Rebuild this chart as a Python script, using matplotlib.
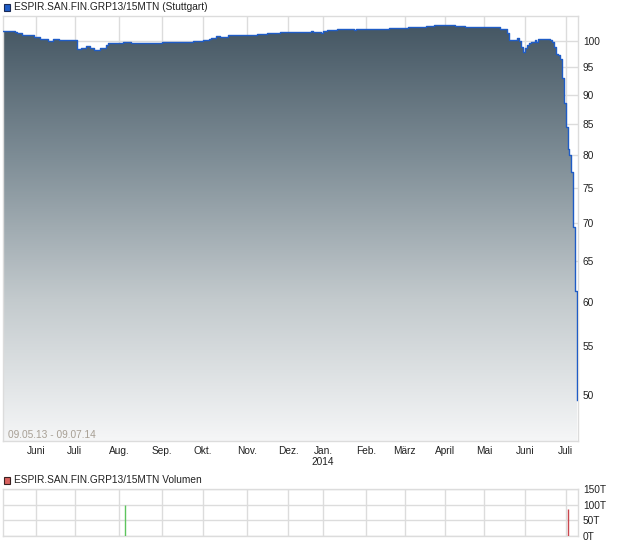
import numpy as np
import pandas as pd
import matplotlib
matplotlib.use('Agg')
import matplotlib.pyplot as plt
from matplotlib.colors import LinearSegmentedColormap
from matplotlib.patches import Rectangle
from matplotlib.ticker import NullLocator

plt.rcParams['font.family'] = ['Liberation Sans', 'DejaVu Sans']

# ---------------- data ----------------
title_main = 'ESPIR.SAN.FIN.GRP13/15MTN (Stuttgart)'
title_vol = 'ESPIR.SAN.FIN.GRP13/15MTN Volumen'
range_label = '09.05.13 - 09.07.14'

# price change points (value holds until next date)
price_dates = [
    '2013-05-09', '2013-05-17', '2013-05-20', '2013-05-23', '2013-05-31',
    '2013-06-05', '2013-06-11', '2013-06-14', '2013-06-19', '2013-07-02',
    '2013-07-04', '2013-07-09', '2013-07-11', '2013-07-15', '2013-07-18',
    '2013-07-23', '2013-07-24', '2013-08-05', '2013-08-09', '2013-09-02',
    '2013-09-24', '2013-09-27', '2013-10-01', '2013-10-04', '2013-10-07',
    '2013-10-10', '2013-10-14', '2013-10-18', '2013-11-08', '2013-11-15',
    '2013-11-26', '2013-12-18', '2013-12-19', '2013-12-30', '2014-01-02',
    '2014-01-06', '2014-01-08', '2014-01-13', '2014-01-24', '2014-01-27',
    '2014-02-19', '2014-03-05', '2014-03-18', '2014-03-24', '2014-04-08',
    '2014-04-15', '2014-05-14', '2014-05-20', '2014-05-21', '2014-05-27',
    '2014-05-28', '2014-05-29', '2014-05-30', '2014-06-02', '2014-06-03',
    '2014-06-04', '2014-06-05', '2014-06-09', '2014-06-10', '2014-06-11',
    '2014-06-19', '2014-06-20', '2014-06-23', '2014-06-24', '2014-06-25',
    '2014-06-26', '2014-06-27', '2014-06-30', '2014-07-01', '2014-07-02',
    '2014-07-03', '2014-07-04', '2014-07-07', '2014-07-08', '2014-07-09',
]
price_values = [
    102.0, 101.8, 101.5, 101.2, 100.8,
    100.4, 100.0, 100.3, 100.1, 98.4,
    98.6, 99.0, 98.7, 98.3, 98.6,
    99.2, 99.55, 99.75, 99.55, 99.8,
    99.9, 100.05, 100.2, 100.4, 100.6,
    100.9, 100.8, 101.1, 101.3, 101.5,
    101.8, 102.0, 101.8, 101.5, 102.0,
    102.2, 102.1, 102.3, 102.2, 102.3,
    102.5, 102.7, 102.9, 103.1, 102.9,
    102.7, 102.3, 101.5, 100.2, 100.5,
    99.9, 98.9, 97.8, 98.6, 99.2,
    99.5, 99.7, 100.1, 99.8, 100.3,
    100.2, 99.7, 98.9, 97.4, 97.2,
    96.6, 93.0, 88.5, 84.5, 81.0,
    80.0, 77.4, 69.5, 61.3, 49.5,
]

vol_dates = ['2013-08-06', '2014-07-02']
vol_values = [99, 87]          # in thousands (T)
vol_colors = ['#5dc45d', '#c9474e']

month_labels = ['Juni', 'Juli', 'Aug.', 'Sep.', 'Okt.', 'Nov.', 'Dez.',
                'Jan.\n2014', 'Feb.', 'März', 'April', 'Mai', 'Juni', 'Juli']
y_ticks = [50, 55, 60, 65, 70, 75, 80, 85, 90, 95, 100]
vol_ticks = [0, 50, 100, 150]
vol_tick_labels = ['0T', '50T', '100T', '150T']

# exchange trading calendar (x axis is trading-day based)
holidays = ['2013-12-24', '2013-12-25', '2013-12-26', '2013-12-31',
            '2014-01-01', '2014-04-18', '2014-04-21', '2014-05-01']
days = pd.bdate_range('2013-05-09', '2014-07-09')
days = days[~days.isin(pd.to_datetime(holidays))]
pos = {d: i for i, d in enumerate(days)}

xs = np.array([pos[pd.Timestamp(d)] for d in price_dates], dtype=float)
vals = np.array(price_values)
vx = np.array([pos[pd.Timestamp(d)] for d in vol_dates], dtype=float)

per = days.to_period('M')
month_idx = [i for i in range(1, len(days)) if per[i] != per[i - 1]]

# ---------------- layout ----------------
W, H = 620, 546
fig = plt.figure(figsize=(W / 100, H / 100), dpi=100)
fig.patch.set_facecolor('white')
FS = 7.3


def rect(l, t, r, b):
    return [l / W, 1 - b / H, (r - l) / W, (b - t) / H]


ax = fig.add_axes(rect(3, 16, 578.3, 441))
axv = fig.add_axes(rect(3, 489, 578.3, 536))

XMAX = 296.55
YMIN, YMAX = 45.7, 105.0
grid_c = '#dcdcdc'
txt_c = '#222222'

# ---------------- main price chart ----------------
ax.set_yscale('log')
poly = ax.fill_between(xs, vals, YMIN * 0.9, step='post',
                       facecolor='none', edgecolor='none', zorder=1)
cmap = LinearSegmentedColormap.from_list(
    'g', ['#415360', '#7e8d96', '#c3cacd', '#f5f6f7'])
grad = np.linspace(0, 1, 512).reshape(-1, 1)
im = ax.imshow(grad, extent=[0, 1, 0, 1], transform=ax.transAxes,
               aspect='auto', cmap=cmap, origin='upper', zorder=1,
               interpolation='bilinear')
im.set_clip_path(poly.get_paths()[0], transform=poly.get_transform())
ax.plot(xs, vals, drawstyle='steps-post', color='#1f5cc6', lw=1.0, zorder=3)

ax.set_xlim(0, XMAX)
ax.set_ylim(YMIN, YMAX)
ax.set_axisbelow(True)
ax.yaxis.tick_right()
ax.set_yticks(y_ticks)
ax.set_yticklabels([str(v) for v in y_ticks])
ax.yaxis.set_minor_locator(NullLocator())
ax.set_xticks(month_idx)
ax.set_xticklabels(month_labels)
ax.tick_params(axis='y', length=0, pad=3.3, labelsize=FS, colors=txt_c)
ax.tick_params(axis='x', length=0, pad=3.3, labelsize=FS, colors=txt_c)
ax.grid(True, color=grid_c, lw=1, zorder=0)
for s in ax.spines.values():
    s.set_color(grid_c)
    s.set_linewidth(1)

fig.text(8.3 / W, 1 - 435 / H, range_label, ha='left', va='center',
         fontsize=FS, color='#a79f94')

# titles / legends
fig.add_artist(Rectangle((3.5 / W, 1 - 10.5 / H), 6.5 / W, 6.5 / H,
                         transform=fig.transFigure, facecolor='#1f5cc6',
                         edgecolor='#1b2a55', lw=0.8))
fig.text(13.5 / W, 1 - 6.5 / H, title_main, ha='left', va='center',
         fontsize=FS, color=txt_c)
fig.add_artist(Rectangle((3.5 / W, 1 - 483.5 / H), 6.5 / W, 6.5 / H,
                         transform=fig.transFigure, facecolor='#d9625f',
                         edgecolor='#3a2222', lw=0.8))
fig.text(13.5 / W, 1 - 480 / H, title_vol, ha='left', va='center',
         fontsize=FS, color=txt_c)

# ---------------- volume chart ----------------
axv.vlines(vx, 0, vol_values, colors=vol_colors, lw=1.0, zorder=3)
axv.set_xlim(0, XMAX)
axv.set_ylim(0, 150)
axv.set_axisbelow(True)
axv.yaxis.tick_right()
axv.set_yticks(vol_ticks)
axv.set_yticklabels(vol_tick_labels)
axv.set_xticks(month_idx)
axv.set_xticklabels([])
axv.tick_params(axis='y', length=0, pad=3.3, labelsize=FS, colors=txt_c)
axv.tick_params(axis='x', length=0)
axv.grid(True, color=grid_c, lw=1, zorder=0)
for s in axv.spines.values():
    s.set_color(grid_c)
    s.set_linewidth(1)

fig.savefig('out.png', dpi=100)
